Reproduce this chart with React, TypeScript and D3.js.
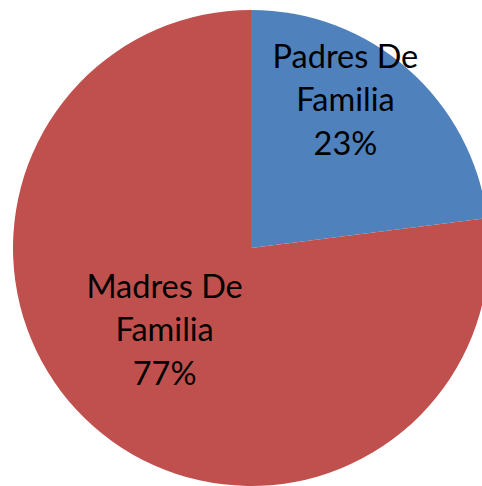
import React from 'react';
import * as d3 from 'd3';

const categories = ['Padres De Familia', 'Madres De Familia'];
const values = [23, 77];
const colors = ['#4F81BD', '#C0504D'];
// label lines as shown on the chart
const labelLines = [['Padres De', 'Familia', '23%'], ['Madres De', 'Familia', '77%']];

const W = 482, H = 486;
const cx = 251, cy = 248, radius = 238;

export default function App() {
  const pie = d3.pie<number>().sort(null).value((d) => d);
  const arcs = pie(values);
  const arc = d3.arc<d3.PieArcDatum<number>>().innerRadius(0).outerRadius(radius);
  const labelArc = d3.arc<d3.PieArcDatum<number>>().innerRadius(radius * 0.6).outerRadius(radius * 0.6);
  // nudge labels like the original (best fit placement)
  const labelShift = [[0, -41], [8, -25]];
  const lineH = 43.5;

  return (
    <svg width={W} height={H} style={{ position: 'absolute', left: 0, top: 0 }}>
      <g transform={`translate(${cx},${cy})`}>
        {arcs.map((a, i) => (
          <path key={categories[i]} d={arc(a) || ''} fill={colors[i]} />
        ))}
        {arcs.map((a, i) => {
          const [cxl, cyl] = labelArc.centroid(a);
          const x = cxl + labelShift[i][0];
          const lines = labelLines[i];
          const y0 = cyl + labelShift[i][1] - ((lines.length - 1) * lineH) / 2;
          return (
            <text key={'l' + i} x={x} textAnchor="middle" fontFamily="Lato, 'Open Sans', sans-serif" fontSize={32.5} fill="#000">
              {lines.map((t, j) => (
                <tspan key={j} x={x} y={y0 + j * lineH} dy="0.35em">{t}</tspan>
              ))}
            </text>
          );
        })}
      </g>
    </svg>
  );
}
